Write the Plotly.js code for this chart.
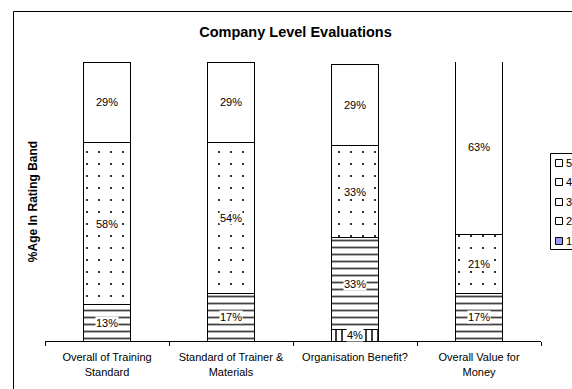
<!DOCTYPE html>
<html>
<head>
<meta charset="utf-8">
<script src="https://cdn.plot.ly/plotly-3.0.1.min.js"></script>
<style>
  html, body { margin: 0; padding: 0; background: #fff; }
  #chart { width: 572px; height: 389px; }
</style>
</head>
<body>
<div id="chart"></div>
<script>
// Rating questions along the category axis
const categories = [
  'Overall of Training<br>Standard',
  'Standard of Trainer &<br>Materials',
  'Organisation Benefit?',
  'Overall Value for<br>Money'
];

// Percentage of responses in each rating band (1 = lowest, 5 = highest)
const band1 = [0, 0, 0, 0];
const band2 = [0, 0, 4, 0];
const band3 = [13, 17, 33, 17];
const band4 = [58, 54, 33, 21];
const band5 = [29, 29, 29, 63];

const bandNames = ['1', '2', '3', '4', '5'];
const bands = [band1, band2, band3, band4, band5];

// Layout geometry (pixels)
const W = 572, H = 389;
const M = { l: 45, r: 31, t: 62, b: 48 };
const plotW = W - M.l - M.r, plotH = H - M.t - M.b;
const px = x => (x - M.l) / plotW;           // pixel x -> paper x
const py = y => (H - M.b - y) / plotH;       // pixel y -> paper y

const FONT = 'Liberation Sans, Arial, sans-serif';

function bandTrace(name, vals, color, pattern) {
  const t = {
    type: 'bar',
    name: name,
    x: categories,
    y: vals,
    hoverinfo: 'skip',
    showlegend: false,
    marker: { color: color, line: { color: '#000', width: 1 } }
  };
  if (pattern) t.marker.pattern = pattern;
  return t;
}

const traces = [
  bandTrace(bandNames[0], band1, '#9999ff'),
  bandTrace(bandNames[1], band2, '#ffffff',
    { shape: '|', size: 6, solidity: 0.25, fgcolor: '#000', fgopacity: 1 }),
  bandTrace(bandNames[2], band3, '#ffffff',
    { shape: '-', size: 7, solidity: 0.26, fgcolor: '#444', fgopacity: 1 }),
  bandTrace(bandNames[3], band4, '#ffffff',
    { shape: '.', size: 12, solidity: 0.025, fgcolor: '#000', fgopacity: 1 }),
  bandTrace(bandNames[4], band5, '#ffffff')
];

// Value labels centred in each stacked segment, drawn above every bar
const annotations = [];
categories.forEach((cat, ci) => {
  let base = 0;
  bands.forEach(vals => {
    const v = vals[ci];
    if (v > 0) {
      annotations.push({
        xref: 'x', yref: 'y', x: cat, y: base + v / 2,
        text: v + '%', showarrow: false,
        xanchor: 'center', yanchor: 'middle',
        bgcolor: '#ffffff', borderpad: 0,
        font: { family: FONT, size: 11, color: '#000' }
      });
    }
    base += v;
  });
});

// Chart frame and hand-built legend box: bands listed 5 -> 1 from top to bottom
const shapes = [
  { type: 'rect', xref: 'paper', yref: 'paper',
    x0: px(13.5), x1: px(W + 20), y0: py(H + 20), y1: py(11.5),
    line: { color: '#000', width: 1 }, fillcolor: 'rgba(0,0,0,0)', layer: 'below' },
  { type: 'rect', xref: 'paper', yref: 'paper',
    x0: px(550.5), x1: px(W + 20), y0: py(249.5), y1: py(153.5),
    line: { color: '#000', width: 1 }, fillcolor: '#fff' }
];
const legendRows = [163, 182, 202, 221, 241];
const legendColors = ['#ffffff', '#ffffff', '#ffffff', '#ffffff', '#9999ff'];
legendRows.forEach((ry, i) => {
  shapes.push({ type: 'rect', xref: 'paper', yref: 'paper',
    x0: px(555.5), x1: px(562.5), y0: py(ry + 3.5), y1: py(ry - 3.5),
    line: { color: '#000', width: 1 }, fillcolor: legendColors[i] });
  annotations.push({ xref: 'paper', yref: 'paper', x: px(563.5), y: py(ry),
    xanchor: 'left', yanchor: 'middle', showarrow: false,
    text: bandNames[4 - i], font: { family: FONT, size: 11, color: '#000' } });
});

const layout = {
  width: W, height: H,
  margin: M,
  paper_bgcolor: '#fff',
  plot_bgcolor: '#fff',
  font: { family: FONT, size: 11, color: '#000' },
  title: {
    text: '<b>Company Level Evaluations</b>',
    font: { family: FONT, size: 14.5, color: '#000' },
    x: px(295.5), xref: 'paper', xanchor: 'center',
    y: 1 - 32 / H, yref: 'container', yanchor: 'middle'
  },
  barmode: 'stack',
  bargap: 0.613,
  showlegend: false,
  xaxis: {
    type: 'category',
    showline: true, linecolor: '#000', linewidth: 1,
    ticks: 'outside', tickson: 'boundaries', ticklen: 4, tickcolor: '#000',
    ticklabelstandoff: 6,
    showgrid: false, zeroline: false,
    tickfont: { family: FONT, size: 11, color: '#000' },
    fixedrange: true
  },
  yaxis: {
    range: [0, 100],
    showline: false, showgrid: false, zeroline: false,
    showticklabels: false, ticks: '',
    title: { text: '<b>%Age In Rating Band</b>',
      font: { family: FONT, size: 12, color: '#000' }, standoff: 3 },
    fixedrange: true
  },
  shapes: shapes,
  annotations: annotations
};

Plotly.newPlot('chart', traces, layout, { displayModeBar: false, staticPlot: true });
</script>
</body>
</html>
